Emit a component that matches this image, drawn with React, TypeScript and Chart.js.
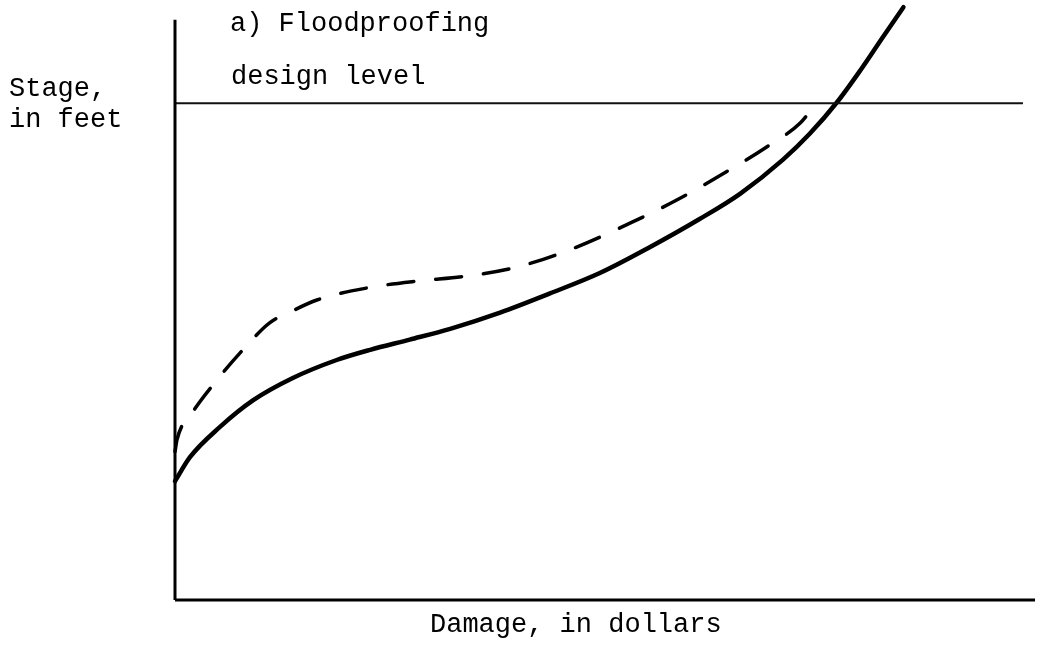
import React, { useEffect, useRef } from "react";
import { Chart, registerables } from "chart.js";

Chart.register(...registerables);

// Damage (x) and stage (y) in arbitrary chart units (0..100)
const solidDamage = [0, 1.74, 5.2, 9.1, 13.7, 18.8, 22.7, 27.3, 32.0, 37.8, 43.6, 49.4, 55.2, 61.0, 65.7, 70.7, 73.8, 77.0, 79.7, 82.3, 84.7];
const solidStage = [19.8, 23.8, 28.8, 33.3, 37.0, 40.0, 41.7, 43.4, 45.2, 47.9, 51.1, 54.5, 58.8, 63.5, 67.7, 73.4, 77.7, 83.0, 88.3, 93.8, 98.8];

const dashedDamage = [0, 0.23, 2.0, 4.9, 7.9, 11.0, 13.4, 16.5, 22.3, 28.5, 33.5, 39.8, 46.3, 52.9, 58.4, 64.5, 68.8, 72.7, 74.4];
const dashedStage = [24.7, 26.7, 31.2, 36.7, 41.7, 46.2, 48.0, 50.0, 52.0, 53.2, 53.9, 55.5, 58.6, 62.8, 66.7, 71.7, 75.5, 79.5, 82.5];

const designLevel = 82.8;
const designFrom = 0;
const designTo = 98.6;
const axisTop = 96.7;
const axisRight = 100;

const titleText = "a) Floodproofing";
const designText = "design level";
const yLabelLines = ["Stage,", "in feet"];
const xLabelText = "Damage, in dollars";

const zip = (xs: number[], ys: number[]) => xs.map((x, i) => ({ x, y: ys[i] }));

const textStyle: React.CSSProperties = {
  position: "absolute",
  fontFamily: "'Liberation Mono', 'DejaVu Sans Mono', monospace",
  fontSize: "27px",
  lineHeight: "27px",
  color: "#000",
  whiteSpace: "pre",
  margin: 0,
};

export default function App() {
  const ref = useRef<HTMLCanvasElement | null>(null);

  useEffect(() => {
    if (!ref.current) return;
    const chart = new Chart(ref.current, {
      type: "scatter",
      data: {
        datasets: [
          {
            label: "axis-y",
            data: [{ x: 0, y: 0 }, { x: 0, y: axisTop }],
            showLine: true,
            borderColor: "#000",
            borderWidth: 3,
            pointRadius: 0,
            clip: false as any,
          },
          {
            label: "axis-x",
            data: [{ x: 0, y: 0 }, { x: axisRight, y: 0 }],
            showLine: true,
            borderColor: "#000",
            borderWidth: 3,
            pointRadius: 0,
            clip: false as any,
          },
          {
            label: "design level",
            data: [{ x: designFrom, y: designLevel }, { x: designTo, y: designLevel }],
            showLine: true,
            borderColor: "#111",
            borderWidth: 2,
            pointRadius: 0,
            clip: false as any,
          },
          {
            label: "floodproofed",
            data: zip(dashedDamage, dashedStage),
            showLine: true,
            borderColor: "#000",
            borderWidth: 3.5,
            borderDash: [26, 22],
            borderCapStyle: "round",
            pointRadius: 0,
            cubicInterpolationMode: "monotone",
            clip: false as any,
          },
          {
            label: "existing",
            data: zip(solidDamage, solidStage),
            showLine: true,
            borderColor: "#000",
            borderWidth: 4.5,
            borderCapStyle: "round",
            pointRadius: 0,
            cubicInterpolationMode: "monotone",
            clip: false as any,
          },
        ],
      },
      options: {
        animation: false,
        responsive: false,
        layout: { padding: { left: 175, right: 2, top: 0, bottom: 53 } },
        plugins: { legend: { display: false }, tooltip: { enabled: false } },
        scales: {
          x: { type: "linear", min: 0, max: 100, display: false },
          y: { type: "linear", min: 0, max: 100, display: false },
        },
      },
    });
    return () => chart.destroy();
  }, []);

  return (
    <div style={{ position: "absolute", left: 0, top: 0, width: 1037, height: 653, background: "#fff" }}>
      <canvas ref={ref} width={1037} height={653} style={{ position: "absolute", left: 0, top: 0 }} />
      <div style={{ ...textStyle, left: 230, top: 11 }}>{titleText}</div>
      <div style={{ ...textStyle, left: 231, top: 64 }}>{designText}</div>
      <div style={{ ...textStyle, left: 9, top: 76 }}>{yLabelLines[0]}</div>
      <div style={{ ...textStyle, left: 9, top: 107 }}>{yLabelLines[1]}</div>
      <div style={{ ...textStyle, left: 430, top: 612 }}>{xLabelText}</div>
    </div>
  );
}
